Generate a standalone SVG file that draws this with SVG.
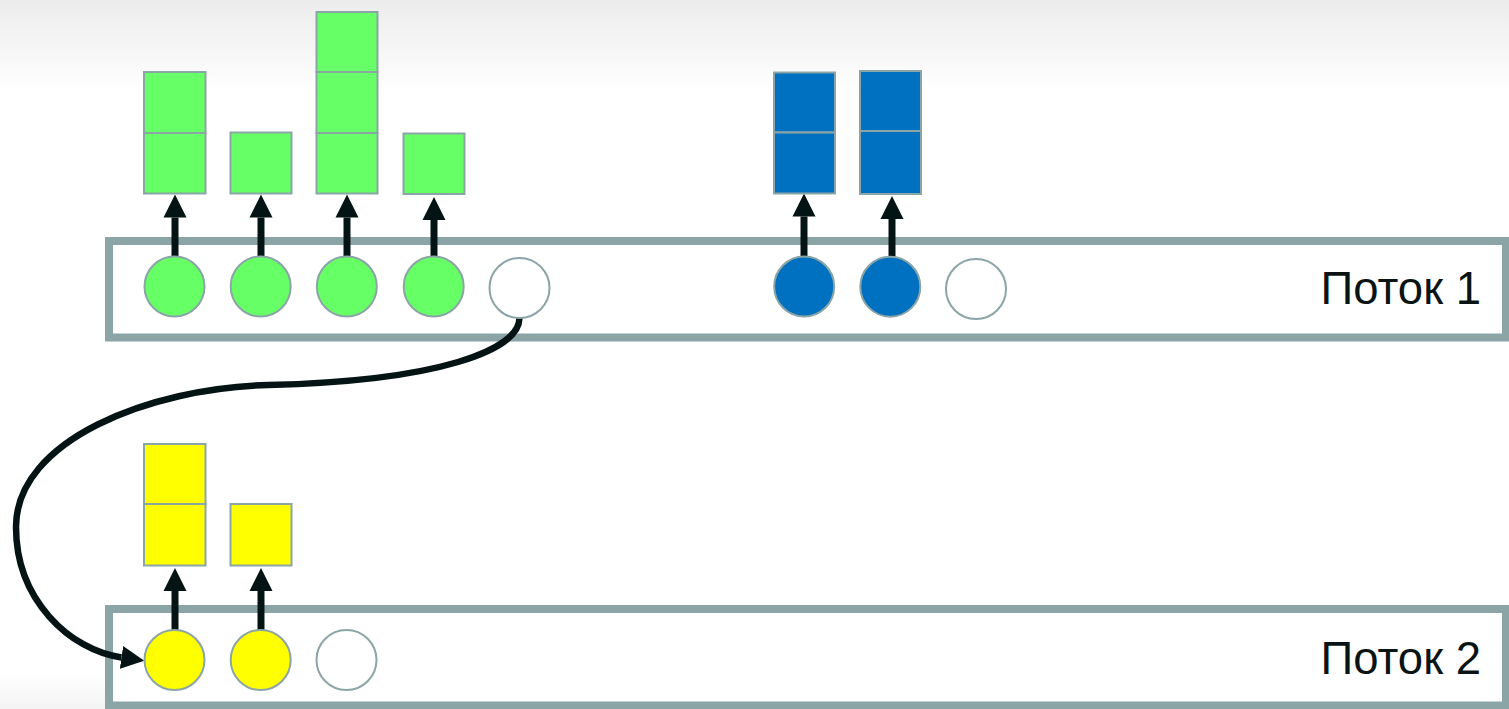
<svg xmlns="http://www.w3.org/2000/svg" width="1509" height="709" viewBox="0 0 1509 709">
<defs>
<linearGradient id="bg" x1="0" y1="0" x2="0" y2="1">
<stop offset="0" stop-color="#ececec"/>
<stop offset="0.13" stop-color="#ffffff"/>
<stop offset="0.95" stop-color="#ffffff"/>
<stop offset="1" stop-color="#f3f3f3"/>
</linearGradient>
<marker id="ah" markerUnits="userSpaceOnUse" markerWidth="24" markerHeight="24" refX="0" refY="11.5" orient="auto" viewBox="0 0 24 23">
<path d="M0,0 L23,11.5 L0,23 z" fill="#041414"/>
</marker>
<style>
.thread{fill:#ffffff;stroke:#8ba5a7;stroke-width:8}
.item{stroke:#8ba5a7;stroke-width:2}
.g{fill:#66ff66}
.b{fill:#0070c0}
.y{fill:#ffff00}
.w{fill:#ffffff}
.arr{stroke:#041414;stroke-width:7;fill:none;marker-end:url(#ah)}
.curve{stroke:#041414;stroke-width:6.5;fill:none;marker-end:url(#ah)}
.lbl{font-family:"Liberation Sans",Arial,sans-serif;font-size:45.5px;fill:#0a1414;text-anchor:end}
</style>
</defs>
<rect x="0" y="0" width="1509" height="709" fill="url(#bg)"/>

<g id="thread1">
<rect class="thread" x="109" y="241" width="1397" height="96.5"/>
<text class="lbl" x="1481" y="304">Поток 1</text>
</g>
<g id="thread2">
<rect class="thread" x="109" y="609" width="1397" height="96.5"/>
<text class="lbl" x="1481" y="674">Поток 2</text>
</g>

<g id="connectors">
<line class="arr" x1="175" y1="256" x2="175" y2="217.5"/>
<line class="arr" x1="261" y1="256" x2="261" y2="217.5"/>
<line class="arr" x1="347" y1="256" x2="347" y2="217.5"/>
<line class="arr" x1="434" y1="258" x2="434" y2="220"/>
<line class="arr" x1="804" y1="256" x2="804" y2="216.5"/>
<line class="arr" x1="892" y1="257" x2="892" y2="219"/>
<line class="arr" x1="175" y1="630" x2="175" y2="591"/>
<line class="arr" x1="261" y1="630" x2="261" y2="591"/>
<path class="curve" d="M519.5,318 C519,350 440,381 268,385 C150,388 16,440 16,527 C16,600 70,650 121.5,657.5"/>
</g>

<g id="t1-task1">
<rect class="item g" x="144" y="72" width="61.5" height="61"/>
<rect class="item g" x="144" y="133" width="61.5" height="60.5"/>
<circle class="item g" cx="174.5" cy="286.5" r="30"/>
</g>
<g id="t1-task2">
<rect class="item g" x="230.5" y="132.5" width="61" height="61"/>
<circle class="item g" cx="260.7" cy="286.5" r="30"/>
</g>
<g id="t1-task3">
<rect class="item g" x="316.5" y="12" width="61" height="60"/>
<rect class="item g" x="316.5" y="72" width="61" height="61"/>
<rect class="item g" x="316.5" y="133" width="61" height="60.5"/>
<circle class="item g" cx="346.8" cy="286.5" r="30"/>
</g>
<g id="t1-task4">
<rect class="item g" x="403.5" y="133.5" width="61" height="60.5"/>
<circle class="item g" cx="433.7" cy="286.5" r="30"/>
</g>
<g id="t1-free1">
<circle class="item w" cx="519.5" cy="288" r="30"/>
</g>
<g id="t1-task5">
<rect class="item b" x="774" y="72.5" width="61" height="60"/>
<rect class="item b" x="774" y="132.5" width="61" height="61"/>
<circle class="item b" cx="804.2" cy="286.5" r="30"/>
</g>
<g id="t1-task6">
<rect class="item b" x="860" y="71" width="61" height="60"/>
<rect class="item b" x="860" y="131" width="61" height="63"/>
<circle class="item b" cx="890.3" cy="286.7" r="30"/>
</g>
<g id="t1-free2">
<circle class="item w" cx="976" cy="289" r="30"/>
</g>

<g id="t2-task1">
<rect class="item y" x="144" y="444" width="61.5" height="60"/>
<rect class="item y" x="144" y="504" width="61.5" height="61.5"/>
<circle class="item y" cx="174.5" cy="660" r="30"/>
</g>
<g id="t2-task2">
<rect class="item y" x="230.5" y="504" width="61" height="61.5"/>
<circle class="item y" cx="260.7" cy="660" r="30"/>
</g>
<g id="t2-free">
<circle class="item w" cx="346.5" cy="660" r="30"/>
</g>
</svg>
